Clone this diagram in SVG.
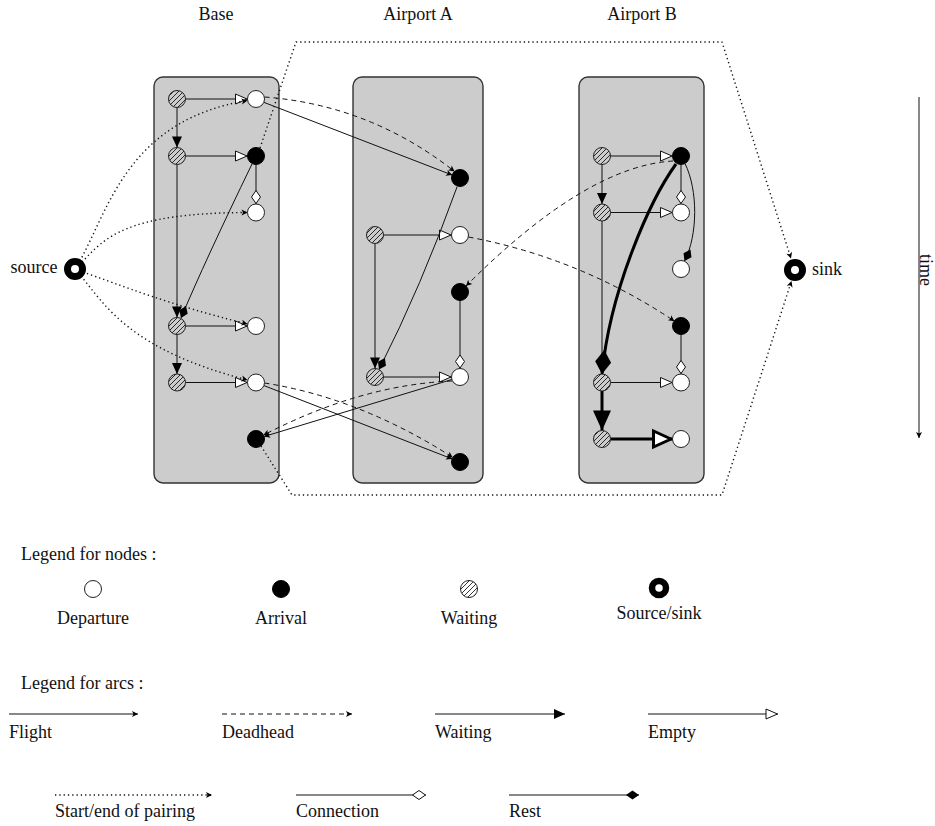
<svg xmlns="http://www.w3.org/2000/svg" width="935" height="826" viewBox="0 0 935 826">
<style>
text{font-family:"Liberation Serif","Times New Roman",serif;font-size:18px;fill:#111}
.panel{fill:#cccccc;stroke:#333;stroke-width:1.4}
.dep{fill:#fff;stroke:#222;stroke-width:1}
.arr{fill:#000;stroke:#000;stroke-width:1}
.wbg{fill:#cccccc;stroke:none}
.wat{fill:url(#hatch);stroke:#222;stroke-width:1}
.ring{fill:none;stroke:#000;stroke-width:7}
.ln{fill:none;stroke:#111;stroke-width:1}
.thick{fill:none;stroke:#000;stroke-width:3}
.dash{fill:none;stroke:#111;stroke-width:1;stroke-dasharray:5 4}
.dot{fill:none;stroke:#111;stroke-width:1.4;stroke-dasharray:1.3 3;stroke-linejoin:round}
.fl{marker-end:url(#mFlight)}
.wt{marker-end:url(#mWait)}
.em{marker-end:url(#mEmpty)}
.cn{marker-end:url(#mConn)}
.rs{marker-end:url(#mRest)}
</style>
<defs>
<pattern id="hatch" patternUnits="userSpaceOnUse" width="5" height="5">
<path d="M-1,1 L1,-1 M0,5 L5,0 M4,6 L6,4" stroke="#000" stroke-width="0.8"/>
</pattern>
<marker id="mFlight" markerUnits="userSpaceOnUse" viewBox="-8 -4 9 8" refX="0" refY="0" markerWidth="9" markerHeight="8" orient="auto">
<path d="M0,0 L-6,-3 L-4.5,0 L-6,3 Z" fill="#000"/>
</marker>
<marker id="mWait" markerUnits="userSpaceOnUse" viewBox="-12 -6 13 12" refX="0" refY="0" markerWidth="13" markerHeight="12" orient="auto">
<path d="M0,0 L-11,-5 L-11,5 Z" fill="#000"/>
</marker>
<marker id="mWaitT" markerUnits="userSpaceOnUse" viewBox="-21 -10 22 20" refX="0" refY="0" markerWidth="22" markerHeight="20" orient="auto">
<path d="M0,0 L-20,-9 L-20,9 Z" fill="#000"/>
</marker>
<marker id="mEmpty" markerUnits="userSpaceOnUse" viewBox="-14 -7 15 14" refX="0" refY="0" markerWidth="15" markerHeight="14" orient="auto">
<path d="M-0.5,0 L-12,-5 L-12,5 Z" fill="#fff" stroke="#111" stroke-width="1"/>
</marker>
<marker id="mEmptyT" markerUnits="userSpaceOnUse" viewBox="-22 -11 23 22" refX="0" refY="0" markerWidth="23" markerHeight="22" orient="auto">
<path d="M-1.5,0 L-19,-8 L-19,8 Z" fill="#fff" stroke="#000" stroke-width="3"/>
</marker>
<marker id="mConn" markerUnits="userSpaceOnUse" viewBox="-15 -6 16 12" refX="0" refY="0" markerWidth="16" markerHeight="12" orient="auto">
<path d="M-0.5,0 L-7,-4.5 L-13.5,0 L-7,4.5 Z" fill="#fff" stroke="#111" stroke-width="1"/>
</marker>
<marker id="mRest" markerUnits="userSpaceOnUse" viewBox="-15 -6 16 12" refX="0" refY="0" markerWidth="16" markerHeight="12" orient="auto">
<path d="M0,0 L-6.5,-4.5 L-13,0 L-6.5,4.5 Z" fill="#000"/>
</marker>
<marker id="mRestT" markerUnits="userSpaceOnUse" viewBox="-26 -10 27 20" refX="0" refY="0" markerWidth="27" markerHeight="20" orient="auto">
<path d="M0,0 L-12,-8 L-24,0 L-12,8 Z" fill="#000"/>
</marker>
</defs>

<rect width="935" height="826" fill="#fff"/>

<!-- headings -->
<g id="headings">
<text x="216" y="20" text-anchor="middle">Base</text>
<text x="418" y="20" text-anchor="middle">Airport A</text>
<text x="642" y="20" text-anchor="middle">Airport B</text>
</g>

<!-- panels -->
<g id="panel-base"><rect class="panel" x="154" y="77" width="125" height="406" rx="9"/></g>
<g id="panel-a"><rect class="panel" x="353" y="77" width="130" height="406" rx="9"/></g>
<g id="panel-b"><rect class="panel" x="579" y="77" width="125" height="406" rx="9"/></g>

<!-- connectors -->
<g id="connectors">
<!-- empty -->
<path class="ln em" d="M185.5,99 H247.5"/>
<path class="ln em" d="M185.5,156 H247.5"/>
<path class="ln em" d="M185.5,326 H247.5"/>
<path class="ln em" d="M185.5,382.5 H247.5"/>
<path class="ln em" d="M383.5,235 H451.5"/>
<path class="ln em" d="M383.5,377 H451.5"/>
<path class="ln em" d="M610.5,156 H672.5"/>
<path class="ln em" d="M610.5,212.5 H672.5"/>
<path class="ln em" d="M610.5,382.5 H672.5"/>
<path class="thick" marker-end="url(#mEmptyT)" d="M610.5,439 H672.5"/>
<!-- waiting -->
<path class="ln wt" d="M177,107.5 V147.5"/>
<path class="ln wt" d="M177,164.5 V317.5"/>
<path class="ln wt" d="M177,334.5 V374"/>
<path class="ln wt" d="M375,243.5 V368.5"/>
<path class="ln wt" d="M602,164.5 V204"/>
<path class="ln wt" d="M602,221 V374"/>
<path class="thick" marker-end="url(#mWaitT)" d="M602,391 V430.5"/>
<!-- connection -->
<path class="ln cn" d="M256,164.5 V204"/>
<path class="ln cn" d="M460,300.5 V368.5"/>
<path class="ln cn" d="M681,164.5 V204"/>
<path class="ln cn" d="M681,335 V374"/>
<!-- rest -->
<path class="ln rs" d="M252,164 Q205,261 181,318"/>
<path class="ln rs" d="M457,187 Q421,287 379,369.5"/>
<path class="ln rs" d="M685,163.5 C698,190 698,235 684.5,261"/>
<path class="thick" marker-end="url(#mRestT)" d="M676,164 C650,200 610,290 602,374"/>
<!-- flights -->
<path class="ln fl" d="M264,102.4 L452.1,175"/>
<path class="ln fl" d="M264,385.6 L452.1,458.9"/>
<path class="ln fl" d="M451.9,379.5 L264.1,436.5"/>
<!-- deadheads -->
<path class="dash fl" d="M264.5,97 Q370,105 454.6,171.5"/>
<path class="dash fl" d="M264.5,383 Q360,398 452.8,457.4"/>
<path class="dash fl" d="M452,381 Q360,385 263.5,435.1"/>
<path class="dash fl" d="M468.5,237 Q580,258 674.5,321.2"/>
<path class="dash fl" d="M673,161 Q586,166 466,286"/>
<!-- start/end of pairing -->
<path class="dot fl" d="M80,261 C110,205 130,120 247.5,100.5"/>
<path class="dot fl" d="M82,262 C105,238 125,213 247.5,212.5"/>
<path class="dot fl" d="M83,272 C120,285 170,305 247.5,324"/>
<path class="dot fl" d="M81,276 C105,305 130,350 247.5,380"/>
<path class="dot fl" d="M260,148 L296,42 L722,42 L791,258.5"/>
<path class="dot fl" d="M261,446 L292,495 L722,495 L791.5,281"/>
<!-- time -->
<path class="ln fl" d="M919,97 V438"/>
</g>

<!-- Base nodes -->
<g id="base-w1"><circle class="wbg" cx="177" cy="99" r="8.5"/><circle class="wat" cx="177" cy="99" r="8.5"/></g>
<g id="base-d1"><circle class="dep" cx="256" cy="99" r="8.5"/></g>
<g id="base-w2"><circle class="wbg" cx="177" cy="156" r="8.5"/><circle class="wat" cx="177" cy="156" r="8.5"/></g>
<g id="base-a1"><circle class="arr" cx="256" cy="156" r="8.5"/></g>
<g id="base-d2"><circle class="dep" cx="256" cy="212.5" r="8.5"/></g>
<g id="base-w3"><circle class="wbg" cx="177" cy="326" r="8.5"/><circle class="wat" cx="177" cy="326" r="8.5"/></g>
<g id="base-d3"><circle class="dep" cx="256" cy="326" r="8.5"/></g>
<g id="base-w4"><circle class="wbg" cx="177" cy="382.5" r="8.5"/><circle class="wat" cx="177" cy="382.5" r="8.5"/></g>
<g id="base-d4"><circle class="dep" cx="256" cy="382.5" r="8.5"/></g>
<g id="base-a2"><circle class="arr" cx="256" cy="439" r="8.5"/></g>

<!-- Airport A nodes -->
<g id="a-a1"><circle class="arr" cx="460" cy="178" r="8.5"/></g>
<g id="a-w1"><circle class="wbg" cx="375" cy="235" r="8.5"/><circle class="wat" cx="375" cy="235" r="8.5"/></g>
<g id="a-d1"><circle class="dep" cx="460" cy="235" r="8.5"/></g>
<g id="a-a2"><circle class="arr" cx="460" cy="292" r="8.5"/></g>
<g id="a-w2"><circle class="wbg" cx="375" cy="377" r="8.5"/><circle class="wat" cx="375" cy="377" r="8.5"/></g>
<g id="a-d2"><circle class="dep" cx="460" cy="377" r="8.5"/></g>
<g id="a-a3"><circle class="arr" cx="460" cy="462" r="8.5"/></g>

<!-- Airport B nodes -->
<g id="b-w1"><circle class="wbg" cx="602" cy="156" r="8.5"/><circle class="wat" cx="602" cy="156" r="8.5"/></g>
<g id="b-a1"><circle class="arr" cx="681" cy="156" r="8.5"/></g>
<g id="b-w2"><circle class="wbg" cx="602" cy="212.5" r="8.5"/><circle class="wat" cx="602" cy="212.5" r="8.5"/></g>
<g id="b-d1"><circle class="dep" cx="681" cy="212.5" r="8.5"/></g>
<g id="b-d2"><circle class="dep" cx="681" cy="269" r="8.5"/></g>
<g id="b-a2"><circle class="arr" cx="681" cy="326" r="8.5"/></g>
<g id="b-w3"><circle class="wbg" cx="602" cy="382.5" r="8.5"/><circle class="wat" cx="602" cy="382.5" r="8.5"/></g>
<g id="b-d3"><circle class="dep" cx="681" cy="382.5" r="8.5"/></g>
<g id="b-w4"><circle class="wbg" cx="602" cy="439" r="8.5"/><circle class="wat" cx="602" cy="439" r="8.5"/></g>
<g id="b-d4"><circle class="dep" cx="681" cy="439" r="8.5"/></g>

<!-- source / sink -->
<g id="source"><circle class="ring" cx="75" cy="269" r="7.5"/><text x="10.5" y="273">source</text></g>
<g id="sink"><circle class="ring" cx="795" cy="270" r="7.5"/><text x="812" y="275">sink</text></g>
<g id="time-label"><text transform="translate(920,270) rotate(90)" text-anchor="middle" font-size="17">time</text></g>

<!-- legend nodes -->
<g id="legend-nodes">
<text x="21" y="560">Legend for nodes :</text>
<circle class="dep" cx="93" cy="589" r="8.5"/>
<text x="93" y="624" text-anchor="middle">Departure</text>
<circle class="arr" cx="281" cy="589" r="8.5"/>
<text x="281" y="624" text-anchor="middle">Arrival</text>
<circle cx="469" cy="589" r="8.5" fill="#fff"/><circle class="wat" cx="469" cy="589" r="8.5"/>
<text x="469" y="624" text-anchor="middle">Waiting</text>
<circle cx="659" cy="588" r="7" fill="none" stroke="#000" stroke-width="6.5"/>
<text x="659" y="619" text-anchor="middle">Source/sink</text>
</g>

<!-- legend arcs -->
<g id="legend-arcs">
<text x="21" y="689">Legend for arcs :</text>
<path class="ln fl" d="M9,714 H138"/>
<text x="9" y="738">Flight</text>
<path class="dash fl" d="M222,714 H352"/>
<text x="222" y="738">Deadhead</text>
<path class="ln wt" d="M435,714 H565"/>
<text x="435" y="738">Waiting</text>
<path class="ln em" d="M648,714 H778"/>
<text x="648" y="738">Empty</text>
<path class="dot fl" d="M55,795 H212"/>
<text x="55" y="817">Start/end of pairing</text>
<path class="ln cn" d="M296,795 H426"/>
<text x="296" y="817">Connection</text>
<path class="ln rs" d="M509,795 H639"/>
<text x="509" y="817">Rest</text>
</g>
</svg>
